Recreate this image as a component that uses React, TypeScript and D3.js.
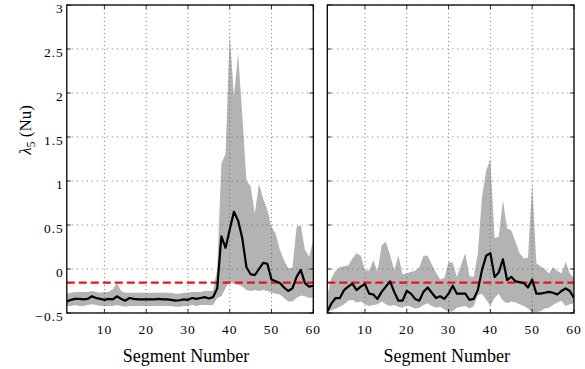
import React from "react";
import * as d3 from "d3";

const segments = d3.range(1, 61);
const yTicks = [-0.5, 0, 0.5, 1, 1.5, 2, 2.5, 3];
const yTickLabels = ["\u22120.5", "0", "0.5", "1", "1.5", "2", "2.5", "3"];
const xTicks = [10, 20, 30, 40, 50, 60];
const threshold = -0.155;

const leftMean = [-0.37,-0.35,-0.34,-0.34,-0.345,-0.34,-0.31,-0.33,-0.34,-0.35,-0.34,-0.345,-0.31,-0.34,-0.36,-0.33,-0.34,-0.345,-0.345,-0.345,-0.345,-0.345,-0.34,-0.345,-0.345,-0.35,-0.36,-0.355,-0.345,-0.35,-0.33,-0.34,-0.33,-0.32,-0.335,-0.32,-0.22,0.37,0.24,0.45,0.65,0.55,0.35,0.02,-0.06,-0.07,0.0,0.07,0.06,-0.12,-0.14,-0.16,-0.21,-0.25,-0.22,-0.09,-0.01,-0.16,-0.2,-0.19];
const leftUpper = [-0.28,-0.27,-0.26,-0.26,-0.26,-0.26,-0.25,-0.26,-0.27,-0.26,-0.26,-0.23,-0.16,-0.25,-0.27,-0.27,-0.27,-0.27,-0.27,-0.27,-0.27,-0.27,-0.27,-0.27,-0.27,-0.27,-0.28,-0.28,-0.27,-0.27,-0.26,-0.26,-0.26,-0.25,-0.25,-0.25,0.0,1.2,1.31,2.68,1.96,2.45,1.75,1.0,0.94,0.63,0.97,0.8,0.67,0.48,0.4,0.22,0.1,0.01,0.01,0.48,0.5,0.22,0.14,0.33];
const leftLower = [-0.42,-0.42,-0.41,-0.42,-0.42,-0.41,-0.4,-0.41,-0.42,-0.42,-0.42,-0.42,-0.41,-0.42,-0.43,-0.42,-0.42,-0.42,-0.42,-0.42,-0.42,-0.42,-0.42,-0.42,-0.42,-0.42,-0.43,-0.43,-0.42,-0.42,-0.41,-0.42,-0.41,-0.41,-0.41,-0.41,-0.33,-0.31,-0.22,-0.14,-0.17,-0.18,-0.2,-0.24,-0.25,-0.24,-0.25,-0.24,-0.25,-0.27,-0.28,-0.29,-0.33,-0.37,-0.37,-0.33,-0.3,-0.31,-0.33,-0.32];

const rightMean = [-0.485,-0.39,-0.33,-0.33,-0.24,-0.2,-0.167,-0.24,-0.2,-0.17,-0.28,-0.29,-0.34,-0.26,-0.2,-0.14,-0.26,-0.36,-0.36,-0.25,-0.28,-0.34,-0.36,-0.26,-0.21,-0.27,-0.33,-0.31,-0.34,-0.28,-0.19,-0.28,-0.28,-0.28,-0.35,-0.34,-0.24,-0.01,0.15,0.18,-0.09,-0.04,0.11,-0.125,-0.09,-0.14,-0.15,-0.16,-0.21,-0.12,-0.28,-0.28,-0.27,-0.26,-0.27,-0.29,-0.25,-0.22,-0.25,-0.33];
const rightUpper = [-0.3,-0.1,-0.02,0.02,0.03,0.04,0.12,0.18,0.15,-0.01,-0.02,0.1,-0.03,0.27,0.31,0.16,-0.01,0.15,-0.06,-0.05,-0.03,-0.02,0.02,0.15,0.15,0.05,-0.04,-0.12,-0.1,0.08,0.07,-0.09,0.05,0.18,-0.08,-0.09,0.18,0.82,1.12,1.25,0.35,0.37,0.78,0.46,0.44,0.31,0.18,0.12,0.13,0.99,0.065,0.03,0.0,-0.05,0.02,-0.02,-0.05,0.08,-0.05,-0.1];
const rightLower = [-0.49,-0.47,-0.45,-0.43,-0.4,-0.36,-0.35,-0.38,-0.37,-0.4,-0.42,-0.41,-0.4,-0.37,-0.4,-0.42,-0.41,-0.43,-0.44,-0.41,-0.43,-0.45,-0.44,-0.41,-0.39,-0.42,-0.44,-0.43,-0.46,-0.49,-0.48,-0.44,-0.43,-0.42,-0.45,-0.42,-0.3,-0.28,-0.35,-0.42,-0.33,-0.28,-0.36,-0.39,-0.37,-0.38,-0.4,-0.42,-0.45,-0.49,-0.49,-0.48,-0.45,-0.44,-0.41,-0.38,-0.36,-0.42,-0.4,-0.39];

const FONT = "Liberation Serif";
const top = 5, bottom = 313;
const y = d3.scaleLinear().domain([-0.5, 3]).range([bottom, top]);

type PanelProps = {
  id: string; x0: number; x1: number;
  mean: number[]; upper: number[]; lower: number[]; showY: boolean;
};

function Panel({ id, x0, x1, mean, upper, lower, showY }: PanelProps) {
  const x = d3.scaleLinear().domain([1, 60]).range([x0, x1]);
  const area = d3.area<number>().x((d) => x(d)).y0((d) => y(lower[d - 1])).y1((d) => y(upper[d - 1]));
  const line = d3.line<number>().x((d) => x(d)).y((d) => y(mean[d - 1]));
  const tl = 4;
  return (
    <g>
      <defs>
        <clipPath id={id}>
          <rect x={x0} y={top} width={x1 - x0} height={bottom - top} />
        </clipPath>
      </defs>
      <g clipPath={`url(#${id})`}>
        <path d={area(segments) || ""} fill="#b3b3b3" stroke="none" />
        {yTicks.map((t) => (
          <line key={"gy" + t} x1={x0} x2={x1} y1={y(t)} y2={y(t)} stroke="#555" strokeWidth={0.8} strokeDasharray="1,4" />
        ))}
        {xTicks.map((t) => (
          <line key={"gx" + t} x1={x(t)} x2={x(t)} y1={top} y2={bottom} stroke="#555" strokeWidth={0.8} strokeDasharray="1,3" />
        ))}
        <line x1={x0} x2={x1} y1={y(threshold)} y2={y(threshold)} stroke="#e8141c" strokeWidth={2.2} strokeDasharray="8,4" />
        <path d={line(segments) || ""} fill="none" stroke="#000" strokeWidth={2.2} strokeLinejoin="round" />
      </g>
      {yTicks.map((t) => (
        <g key={"ty" + t}>
          <line x1={x0} x2={x0 + tl} y1={y(t)} y2={y(t)} stroke="#000" strokeWidth={0.8} />
          <line x1={x1} x2={x1 - tl} y1={y(t)} y2={y(t)} stroke="#000" strokeWidth={0.8} />
        </g>
      ))}
      {xTicks.map((t) => (
        <g key={"tx" + t}>
          <line x1={x(t)} x2={x(t)} y1={bottom} y2={bottom - tl} stroke="#000" strokeWidth={0.8} />
          <line x1={x(t)} x2={x(t)} y1={top} y2={top + tl} stroke="#000" strokeWidth={0.8} />
          <text x={x(t)} y={333.5} textAnchor="middle" fontFamily={FONT} fontSize={13.5} letterSpacing={1}>{t}</text>
        </g>
      ))}
      {showY && yTicks.map((t, i) => (
        <text key={"ly" + t} x={x0 - 3} y={y(t) + 7.5} textAnchor="end" fontFamily={FONT} fontSize={13.5} letterSpacing={1}>{yTickLabels[i]}</text>
      ))}
      <rect x={x0} y={top} width={x1 - x0} height={bottom - top} fill="none" stroke="#000" strokeWidth={1.3} />
      <text x={(x0 + x1) / 2 - 4} y={361.5} textAnchor="middle" fontFamily={FONT} fontSize={18}>Segment Number</text>
    </g>
  );
}

export default function App() {
  return (
    <svg width={585} height={369} style={{ position: "absolute", left: 0, top: 0, background: "#fff" }}>
      <Panel id="clipL" x0={66.8} x1={313.3} mean={leftMean} upper={leftUpper} lower={leftLower} showY={true} />
      <Panel id="clipR" x0={327.3} x1={574} mean={rightMean} upper={rightUpper} lower={rightLower} showY={false} />
      <text transform="translate(31,130) rotate(-90)" textAnchor="middle" fontFamily={FONT} fontSize={17}>
        <tspan fontStyle="italic">λ</tspan>
        <tspan fontSize={12} dy={4}>5</tspan>
        <tspan dy={-4}> (Nu)</tspan>
      </text>
    </svg>
  );
}
